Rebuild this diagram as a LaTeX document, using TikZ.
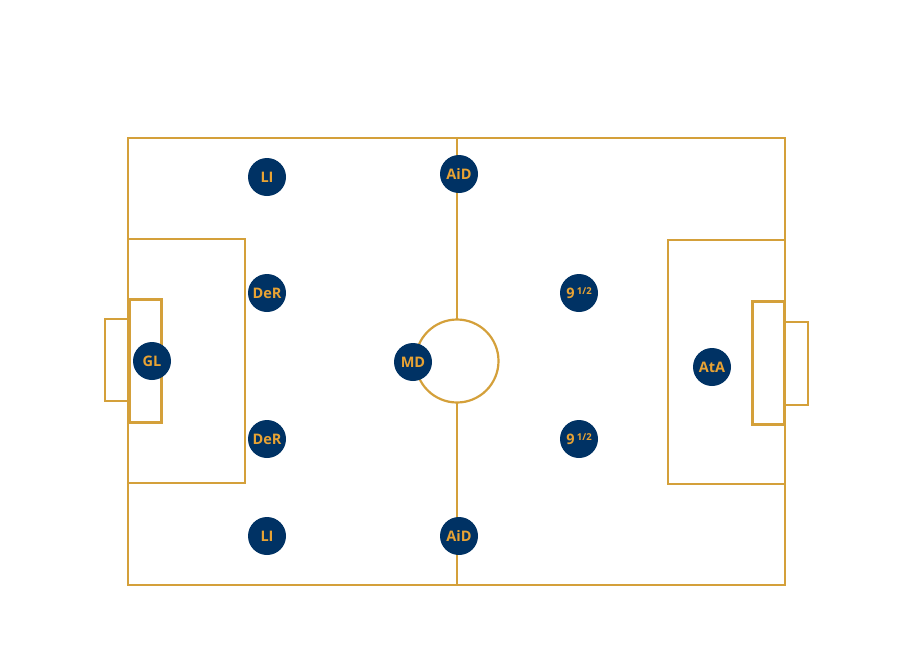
\documentclass[tikz,border=0pt]{standalone}
\usepackage{fontspec}
\setmainfont{Open Sans}
\definecolor{navy}{RGB}{0,50,100}
\definecolor{gold}{RGB}{212,160,58}
\definecolor{txtgold}{RGB}{232,163,52}
\begin{document}
\begin{tikzpicture}[x=1pt,y=-1pt,
  line/.style={draw=gold,line width=2.2pt},
  thick box/.style={draw=gold,line width=3pt},
  player/.style={circle,fill=navy,minimum size=38pt,inner sep=0pt,text=txtgold,font=\fontsize{14.5}{16}\selectfont\bfseries}]
\useasboundingbox (0,0) rectangle (910,665);
% field
\draw[line] (128,138) rectangle (785,585);
\draw[line] (457,138) -- (457,319.5);
\draw[line] (457,402.5) -- (457,585);
\draw[line] (457,361) circle (41.5);
% left side
\draw[line] (128,239) rectangle (245,483);
\draw[line] (105,319) rectangle (128,401);
\draw[thick box] (129,299) rectangle (161,422);
% right side
\draw[line] (668,240) rectangle (785,484);
\draw[line] (785,322) rectangle (808,405);
\draw[thick box] (752,301) rectangle (784,424);
% players
\node[player] (li1) at (267,177) {LI};
\node[player] (aid1) at (459,174) {AiD};
\node[player] (der1) at (267,293) {DeR};
\node[player] (md) at (413,362) {MD};
\node[player] (gl) at (152,361) {GL};
\node[player] (der2) at (267,439) {DeR};
\node[player] (li2) at (267,536) {LI};
\node[player] (aid2) at (459,536) {AiD};
\node[player] (nh1) at (579,293) {9\,\raisebox{0.45ex}{\fontsize{9.5}{10}\selectfont 1/2}};
\node[player] (nh2) at (579,439) {9\,\raisebox{0.45ex}{\fontsize{9.5}{10}\selectfont 1/2}};
\node[player] (ata) at (712,367) {AtA};
\end{tikzpicture}
\end{document}
